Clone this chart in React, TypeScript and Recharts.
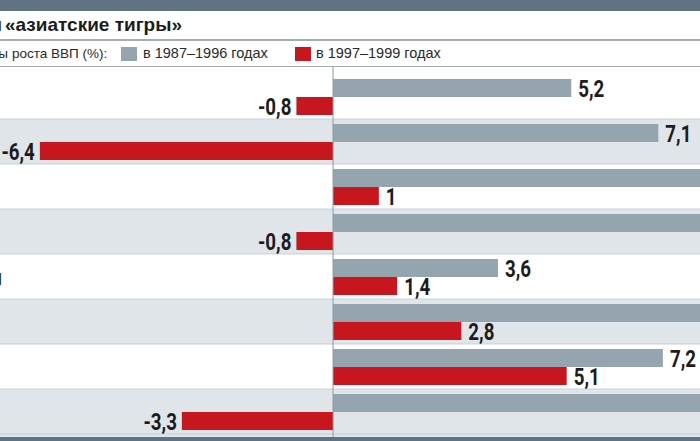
import { BarChart, Bar, XAxis, YAxis, ReferenceArea, ReferenceLine, LabelList } from 'recharts'

// the picture is a crop of a wider chart: both edges are cut off
const countries = ['Гонконг', 'Индонезия', 'Малайзия', 'Корея', 'Филиппины', 'Сингапур', 'Тайвань', 'Таиланд']
const growth8796 = [5.2, 7.1, 8.8, 8.4, 3.6, 8.6, 7.2, 9.5]
const growth9799 = [-0.8, -6.4, 1, -0.8, 1.4, 2.8, 5.1, -3.3]
const seriesNames = ['в 1987–1996 годах', 'в 1997–1999 годах']
const titleHidden = 'Экономика стран'
const titleText = '«азиатские тигры»'
const legendHidden = 'Темпы'
const legendText = 'роста ВВП (%):'
const xDomain = [-7.27, 8.01]

const GRAY = '#94a5af'
const RED = '#c8161e'
const BAND = '#5f7382'
const ROW_BG = '#dfe5e9'
const INK = '#1c1c1c'

const data = countries.map((name, i) => ({ name, early: growth8796[i], late: growth9799[i] }))

const fmt = (v: number) => String(v).replace('.', ',')

// bold condensed numbers: Roboto squeezed horizontally
function ValueLabel(props: any) {
  const { x, y, width, height, value } = props
  const v = Number(value)
  const left = Math.min(x, x + width)
  const right = Math.max(x, x + width)
  const neg = v < 0
  const tx = neg ? left - 5 : right + 7
  const ty = y + height / 2
  return (
    <text
      transform={`translate(${tx},${ty}) scale(0.78,1)`}
      dy="0.36em"
      textAnchor={neg ? 'end' : 'start'}
      fontFamily="Roboto, sans-serif"
      fontWeight="bold"
      fontSize={24}
      fill={INK}
    >
      {fmt(v)}
    </text>
  )
}

// country names sit far left, only the tail of the longest one shows
function CountryLabel(props: any) {
  const { y, height, value } = props
  return (
    <text x={-116} y={y + height} dy="0.36em" textAnchor="start" fontSize={22} fill={INK}
      fontFamily='"Liberation Sans", Arial, sans-serif'>
      {value}
    </text>
  )
}

export default function App() {
  return (
    <div style={{ position: 'fixed', left: 0, top: 0, width: 700, height: 441, overflow: 'hidden', background: '#fff', fontFamily: '"Liberation Sans", Arial, sans-serif', color: INK }}>
      <div style={{ position: 'absolute', left: 0, top: 0, width: 700, height: 11, background: BAND }} />

      <div style={{ position: 'absolute', left: 5, top: 11, height: 28, lineHeight: '28px', fontSize: 19, fontWeight: 'bold', whiteSpace: 'nowrap' }}>
        <span style={{ position: 'absolute', right: '100%', paddingRight: 3 }}>{titleHidden}</span>
        {titleText}
      </div>
      <div style={{ position: 'absolute', left: 0, top: 39, width: 700, height: 2, background: '#a3adb4' }} />

      <div style={{ position: 'absolute', left: 0, top: 41, width: 700, height: 25, lineHeight: '25px', fontSize: 14, color: '#2a2a2a', whiteSpace: 'nowrap' }}>
        <div style={{ position: 'absolute', left: 12, fontSize: 13.5 }}>
          <span style={{ position: 'absolute', right: '100%', paddingRight: 4 }}>{legendHidden}</span>
          {legendText}
        </div>
        <div style={{ position: 'absolute', left: 121, top: 6, width: 16, height: 14, background: GRAY }} />
        <div style={{ position: 'absolute', left: 143, fontSize: 14.5 }}>{seriesNames[0]}</div>
        <div style={{ position: 'absolute', left: 295, top: 6, width: 16, height: 14, background: RED }} />
        <div style={{ position: 'absolute', left: 316, fontSize: 14.5 }}>{seriesNames[1]}</div>
      </div>
      <div style={{ position: 'absolute', left: 0, top: 66, width: 700, height: 1, background: '#a3adb4' }} />

      <div style={{ position: 'absolute', left: 0, top: 434, width: 700, height: 3, background: ROW_BG }} />
      <div style={{ position: 'absolute', left: 0, top: 437, width: 700, height: 4, background: BAND }} />

      <div style={{ position: 'absolute', left: 0, top: 67 }}>
        <BarChart width={700} height={370} data={data} layout="vertical" barSize={18} barGap={0}
          margin={{ top: 0, right: 0, bottom: 0, left: 0 }}>
          <XAxis type="number" domain={xDomain} allowDataOverflow hide />
          <YAxis type="category" dataKey="name" width={0} padding={{ top: 7, bottom: 3 }} hide />
          {countries.filter((_, i) => i % 2 === 1).map((c) => (
            <ReferenceArea key={c} y1={c} y2={c} x1={-9} x2={11} ifOverflow="visible"
              fill={ROW_BG} fillOpacity={1} stroke="#c9d1d7" strokeWidth={1} />
          ))}
          <ReferenceLine x={0} stroke="#8b98a1" strokeWidth={1} ifOverflow="visible" />
          <Bar dataKey="early" name={seriesNames[0]} fill={GRAY} isAnimationActive={false}>
            <LabelList dataKey="early" content={<ValueLabel />} />
            <LabelList dataKey="name" content={<CountryLabel />} />
          </Bar>
          <Bar dataKey="late" name={seriesNames[1]} fill={RED} isAnimationActive={false}>
            <LabelList dataKey="late" content={<ValueLabel />} />
          </Bar>
        </BarChart>
      </div>
    </div>
  )
}
